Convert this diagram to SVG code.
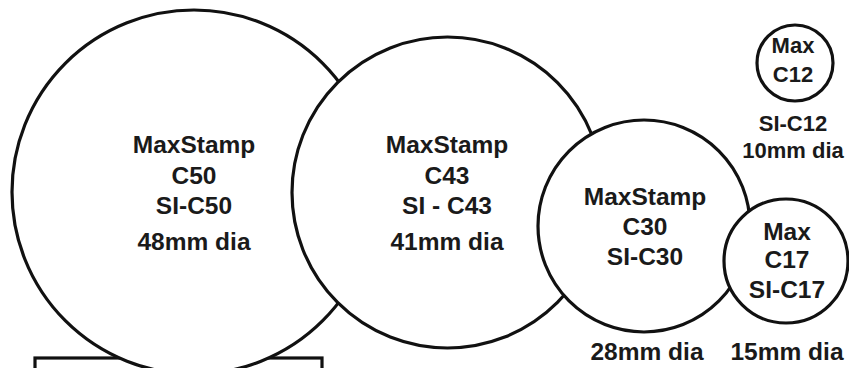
<svg xmlns="http://www.w3.org/2000/svg" width="849" height="368" viewBox="0 0 849 368">
<style>
.c{fill:#fff;stroke:#111;stroke-width:3.2}
.t{font-family:"Liberation Sans",Arial,sans-serif;font-weight:bold;font-size:24.5px;fill:#1a1a1a;text-anchor:middle}
.s{font-size:22px}
</style>
<rect width="849" height="368" fill="#fff"/>
<g id="base"><rect x="35" y="358" width="287" height="40" fill="#fff" stroke="#111" stroke-width="3.2"/></g>
<g id="c50"><circle class="c" cx="194" cy="192" r="182"/>
<text class="t" x="194" y="153">MaxStamp</text><text class="t" x="194" y="184">C50</text><text class="t" x="194" y="214">SI-C50</text><text class="t" x="194" y="250">48mm dia</text></g>
<g id="c43"><circle class="c" cx="447.5" cy="192.5" r="155.5"/>
<text class="t" x="447" y="153">MaxStamp</text><text class="t" x="447" y="184">C43</text><text class="t" x="447" y="214">SI - C43</text><text class="t" x="447" y="250">41mm dia</text></g>
<g id="c30"><circle class="c" cx="644" cy="226" r="106"/>
<text class="t" x="645" y="205">MaxStamp</text><text class="t" x="645" y="235">C30</text><text class="t" x="645" y="265">SI-C30</text><text class="t" x="647" y="360">28mm dia</text></g>
<g id="c17"><circle class="c" cx="786" cy="261" r="62"/>
<text class="t" x="787" y="240">Max</text><text class="t" x="787" y="268">C17</text><text class="t" x="787" y="298">SI-C17</text><text class="t" x="787" y="360">15mm dia</text></g>
<g id="c12"><circle class="c" cx="795" cy="63" r="38"/>
<text class="t s" x="793" y="53">Max</text><text class="t s" x="793" y="82">C12</text><text class="t s" x="793" y="131">SI-C12</text><text class="t s" x="793" y="158">10mm dia</text></g>
<g id="connectors"/>
</svg>
